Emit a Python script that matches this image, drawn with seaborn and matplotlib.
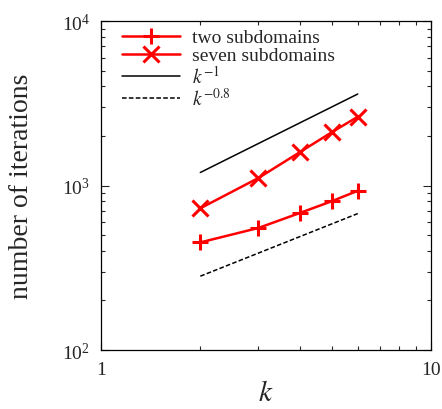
import matplotlib
matplotlib.use("Agg")
import matplotlib.pyplot as plt
import matplotlib.ticker as mticker
from matplotlib.lines import Line2D
import seaborn as sns
import pandas as pd

# number of subdomains experiment
k_vals = [2, 3, 4, 5, 6]
iters_two = [451, 552, 680, 802, 929]
iters_seven = [727, 1111, 1592, 2105, 2618]

# reference slopes, drawn between the end points only
ref_k = [2, 6]
ref_slope_1 = [1200, 3600]
ref_slope_08 = [281, 675]

sns.set_theme(style="ticks")
plt.rcParams["font.family"] = ["Liberation Serif", "DejaVu Serif"]
plt.rcParams["mathtext.fontset"] = "stix"
plt.rcParams["axes.formatter.use_mathtext"] = True

df = pd.DataFrame({
	"k": k_vals * 2,
	"iters": iters_two + iters_seven,
	"series": ["two subdomains"] * len(k_vals) + ["seven subdomains"] * len(k_vals),
})

fig = plt.figure(figsize=(4.42, 4.10), dpi=100)
ax = fig.add_axes([0.2285, 0.1439, 0.7465, 0.8024])

red_kw = dict(linewidth=1.8, markersize=11, markeredgewidth=2.2)
sns.lineplot(
	data=df, x="k", y="iters", hue="series", style="series",
	markers={"two subdomains": "+", "seven subdomains": "x"},
	dashes=False, palette={"two subdomains": "red", "seven subdomains": "red"},
	markeredgecolor="red", ax=ax, legend=False, **red_kw,
)
ax.plot(ref_k, ref_slope_1, color="black", linewidth=1.1)
ax.plot(ref_k, ref_slope_08, color="black", linewidth=1.1, linestyle=(0, (3, 1.5)))

ax.set_xscale("log")
ax.set_yscale("log")
ax.set_xlim(1, 10)
ax.set_ylim(100, 10000)

handles = [
	Line2D([], [], color="red", marker="+", **red_kw),
	Line2D([], [], color="red", marker="x", **red_kw),
	Line2D([], [], color="black", linewidth=1.1),
	Line2D([], [], color="black", linewidth=1.1, linestyle=(0, (3, 1.5))),
]
labels = ["two subdomains", "seven subdomains", r"$k^{-1}$", r"$k^{-0.8}$"]
ax.legend(handles, labels, loc="upper left", frameon=False, fontsize=14,
		  handlelength=3.0, handletextpad=0.6, labelspacing=0.02,
		  borderaxespad=0.0, bbox_to_anchor=(0.04, 1.0))

ax.set_xticks([1, 10])
ax.set_xticklabels(["1", "10"])
ax.xaxis.set_minor_formatter(mticker.NullFormatter())
ax.tick_params(which="both", direction="in", top=True, right=True, labelsize=14, pad=8)
ax.tick_params(which="major", length=6, width=0.8)
ax.tick_params(which="minor", length=3, width=0.8)
for s in ax.spines.values():
	s.set_linewidth(0.9)
	s.set_color("black")

ax.set_xlabel(r"$k$", fontsize=21, labelpad=1)
ax.set_ylabel("number of iterations", fontsize=20, labelpad=20)

fig.savefig("out.png", dpi=100)
